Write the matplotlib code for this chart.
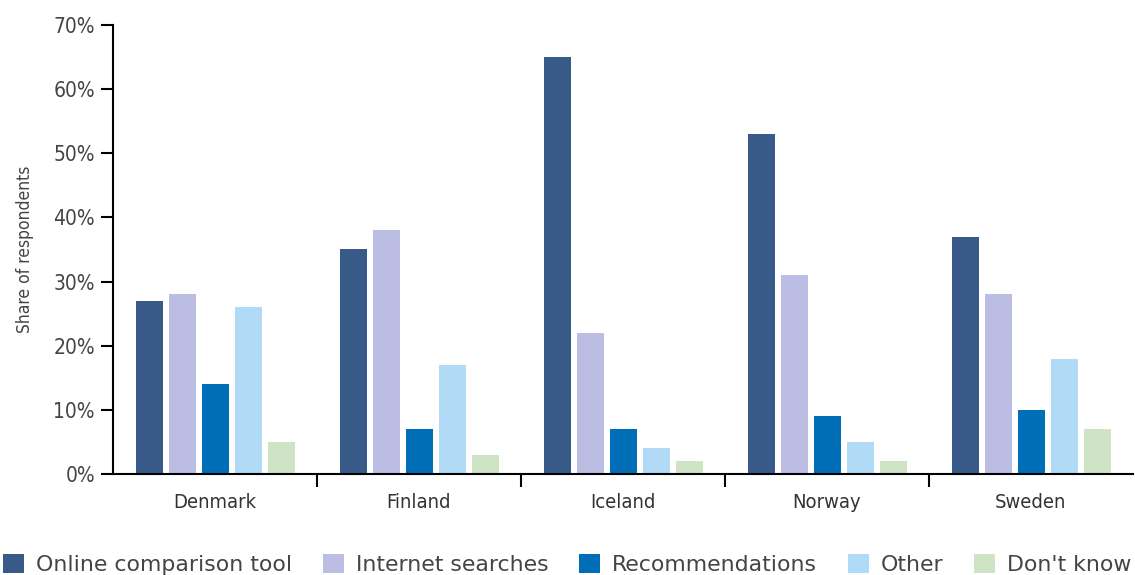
import matplotlib
matplotlib.use("Agg")
import matplotlib.pyplot as plt
import numpy as np

countries = ["Denmark", "Finland", "Iceland", "Norway", "Sweden"]
series_names = ["Online comparison tool", "Internet searches", "Recommendations", "Other", "Don't know"]
online_tool = [27, 35, 65, 53, 37]
internet_searches = [28, 38, 22, 31, 28]
recommendations = [14, 7, 7, 9, 10]
other = [26, 17, 4, 5, 18]
dont_know = [5, 3, 2, 2, 7]
colors = ["#375a89", "#bbbde3", "#006eb6", "#b0daf5", "#cfe4c5"]
y_ticks = [0, 10, 20, 30, 40, 50, 60, 70]

series = [online_tool, internet_searches, recommendations, other, dont_know]
text_color = "#444444"

fig = plt.figure(figsize=(11.35, 5.75), dpi=100)
ax = fig.add_axes([0.0996, 0.1757, 0.8984, 0.7808])

x = np.arange(len(countries))
step = 0.162
width = 0.132
for i, (vals, name, c) in enumerate(zip(series, series_names, colors)):
    ax.bar(x + (i - 2) * step + 0.004, vals, width=width, color=c, label=name)

ax.set_xlim(-0.5, len(countries) - 0.5)
ax.set_ylim(0, 70)
ax.set_yticks(y_ticks)
ax.set_yticklabels([f"{v}%" for v in y_ticks], fontsize=15, color=text_color, fontstretch="condensed")
ax.set_xticks(x)
ax.set_xticklabels(countries, fontsize=14.5, color="#333333", fontstretch="condensed")
ax.set_xticks(np.arange(0.5, len(countries) - 1, 1.0), minor=True)
ax.tick_params(axis="x", which="major", length=0, pad=14)
ax.tick_params(axis="x", which="minor", length=9, width=1.5, color="black")
ax.tick_params(axis="y", length=9, width=1.5, color="black", pad=4)
for s in ["top", "right"]:
    ax.spines[s].set_visible(False)
for s in ["left", "bottom"]:
    ax.spines[s].set_linewidth(1.5)
ax.set_ylabel("Share of respondents", fontsize=12.5, color=text_color, fontstretch="condensed", labelpad=14)

leg = fig.legend(loc="lower center", bbox_to_anchor=(0.5, -0.035), ncol=5, frameon=False,
                 fontsize=15.8, handlelength=0.95, handleheight=0.95, handletextpad=0.55,
                 columnspacing=1.4, labelcolor=text_color)

fig.savefig("out.png", dpi=100)
